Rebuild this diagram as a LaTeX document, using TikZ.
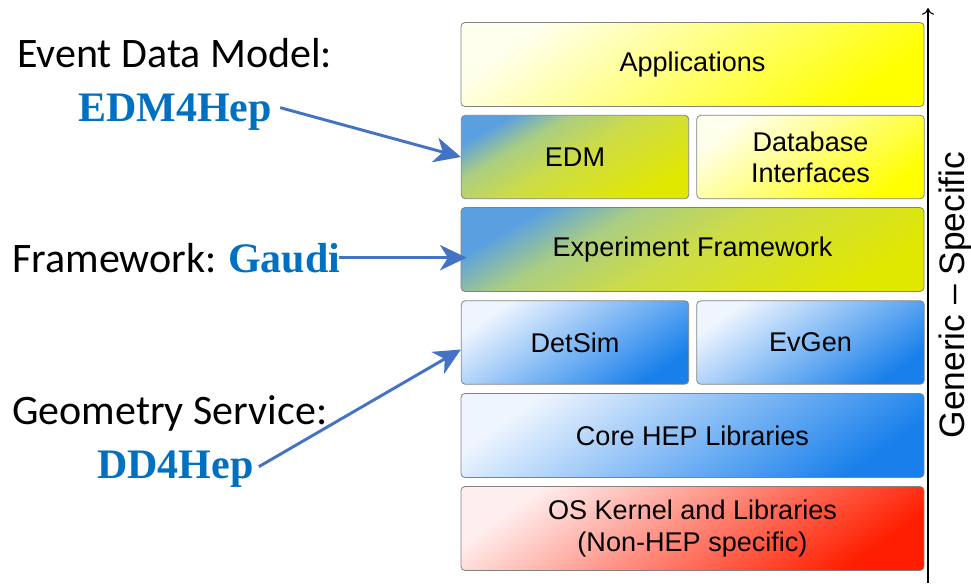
\documentclass[tikz,border=0pt]{standalone}
\usepackage{fontspec}
\setmainfont{Liberation Sans}
\newfontfamily\lblfont{Carlito}
\newfontfamily\tmsfont{Liberation Serif}
\usetikzlibrary{arrows.meta,calc}
\definecolor{lblblue}{RGB}{0,112,192}
\definecolor{arrblue}{RGB}{68,114,196}
\definecolor{boxline}{RGB}{130,130,130}
\definecolor{ylA}{RGB}{255,255,238}
\definecolor{ylB}{RGB}{250,250,150}
\definecolor{ylC}{RGB}{255,255,0}
\definecolor{grA}{RGB}{90,160,225}
\definecolor{grM}{RGB}{170,205,130}
\definecolor{grB}{RGB}{205,220,70}
\definecolor{grC}{RGB}{225,232,0}
\definecolor{blA}{RGB}{238,245,255}
\definecolor{blB}{RGB}{155,198,245}
\definecolor{blC}{RGB}{25,128,235}
\definecolor{rdA}{RGB}{255,238,238}
\definecolor{rdB}{RGB}{250,140,140}
\definecolor{rdC}{RGB}{255,30,0}
\pgfdeclareverticalshading{grnshade}{100bp}{color(0bp)=(grC); color(25bp)=(grC); color(50bp)=(grB); color(64bp)=(grM); color(75bp)=(grA); color(100bp)=(grA)}
\begin{document}
\begin{tikzpicture}[x=0.75pt,y=-0.75pt,
  box/.style={draw=boxline, line width=0.6pt, rounded corners=3pt, inner sep=0pt,
    align=center, font=\fontsize{20.3}{23.5}\selectfont},
  wide/.style={box, minimum width=347.25pt, minimum height=63pt},
  half/.style={box, minimum width=170.6pt, minimum height=62.6pt},
  yel/.style={top color=ylA, middle color=ylB, bottom color=ylC, shading angle=35},
  grn/.style={shade, shading=grnshade, shading angle=30},
  blu/.style={top color=blA, middle color=blB, bottom color=blC, shading angle=35},
  red/.style={top color=rdA, middle color=rdB, bottom color=rdC, shading angle=35},
  lbl/.style={inner sep=0pt, anchor=base west, font=\lblfont\fontsize{31.5}{36}\selectfont},
  prj/.style={inner sep=0pt, anchor=base west, text=lblblue, font=\tmsfont\bfseries\fontsize{31.5}{36}\selectfont},
  pointer/.style={draw=arrblue, line width=2.2pt, -{Stealth[length=20pt, width=19pt, inset=6pt]}}
]
\useasboundingbox (0,0) rectangle (971,583);

% layer boxes
\node[wide, yel] (app) at (692.5,64.5) {Applications};
\node[half, grn] (edm) at (575,157) {EDM};
\node[half, yel] (db) at (810.5,157) {Database\\Interfaces};
\node[wide, grn] (fw) at (692.5,249.5) {Experiment Framework};
\node[half, blu] (detsim) at (575,342.5) {DetSim};
\node[half, blu] (evgen) at (810.5,342.5) {EvGen};
\node[wide, blu] (core) at (692.5,435.5) {Core HEP Libraries};
\node[wide, red] (os) at (692.5,528.5) {OS Kernel and Libraries\\(Non-HEP specific)};

% axis
\coordinate (axbot) at (928,583);
\coordinate (axtop) at (928,8);
\draw[line width=0.8pt, -{To[length=5pt,width=9pt]}] (axbot) -- (axtop);
\node[rotate=90, inner sep=0pt, font=\fontsize{26.5}{30}\selectfont] (gs) at (955,295) {Generic -- Specific};

% left labels
\node[lbl] (edmtxt) at (17,67) {Event Data Model:};
\node[prj] (edm4hep) at (78,121) {EDM4Hep};
\node[lbl] (fwtxt) at (12,272) {Framework:};
\node[prj] (gaudi) at (228,272) {Gaudi};
\node[lbl] (geotxt) at (12,424) {Geometry Service:};
\node[prj] (dd4hep) at (97,478) {DD4Hep};

% arrows
\draw[pointer] ($(edm4hep.east)+(8,-4)$) -- (edm.west);
\draw[pointer] ($(gaudi.east)+(-2,0)$) -- ($(gaudi.east -| fw.west)+(6,0)$);
\draw[pointer] ($(dd4hep.east)+(5,-2)$) -- ($(detsim.west)+(0,7)$);
\end{tikzpicture}
\end{document}
